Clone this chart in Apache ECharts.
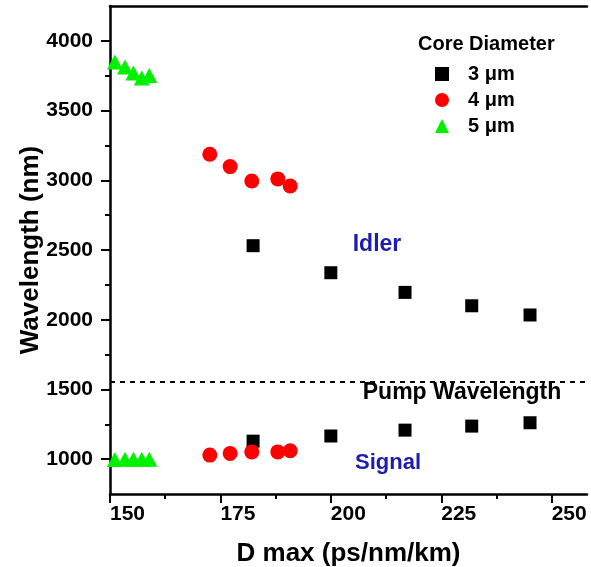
<!DOCTYPE html>
<html>
<head>
<meta charset="utf-8">
<script src="https://cdn.jsdelivr.net/npm/echarts@6/dist/echarts.min.js"></script>
<style>
html,body{margin:0;padding:0;background:#fff;}
#chart{width:591px;height:567px;}
</style>
</head>
<body>
<div id="chart"></div>
<script>
// ---- data ----
const seriesNames = ['3 μm', '4 μm', '5 μm'];
const dmax3 = [182.4, 200.0, 216.8, 231.9, 245.1];
const idler3 = [2531, 2337, 2196, 2100, 2034];
const signal3 = [1129, 1166, 1208, 1237, 1261];
const dmax4 = [172.6, 177.2, 182.1, 188.0, 190.8];
const idler4 = [3187, 3098, 2995, 3010, 2959];
const signal4 = [1029, 1041, 1052, 1052, 1060];
const dmax5 = [151.1, 153.4, 155.3, 157.2, 158.9];
const idler5 = [3849, 3813, 3770, 3734, 3752];
const signal5 = [998, 1000, 1000, 1000, 1000];
const pumpWavelength = 1555;
const xMajorTicks = [150, 175, 200, 225, 250];
const xMinorTicks = [162.5, 187.5, 212.5, 237.5];
const yMajorTicks = [1000, 1500, 2000, 2500, 3000, 3500, 4000];
const yMinorTicks = [1250, 1750, 2250, 2750, 3250, 3750];
const xRange = [150, 258];
const yRange = [750, 4250];

function pairs(xs, ys) { return xs.map((x, i) => [x, ys[i]]); }

const FONT = 'Liberation Sans, Arial, sans-serif';
const chart = echarts.init(document.getElementById('chart'), null, {renderer: 'canvas'});

const axisLineStyle = {color: '#000', width: 2.5};
const baseX = {type: 'value', min: xRange[0], max: xRange[1], splitLine: {show: false}, gridIndex: 0};
const baseY = {type: 'value', min: yRange[0], max: yRange[1], splitLine: {show: false}, gridIndex: 0};

chart.setOption({
  animation: false,
  backgroundColor: '#fff',
  grid: {left: 110, right: 4, top: 6, bottom: 73, containLabel: false, outerBoundsMode: 'none'},
  title: {
    text: 'Core Diameter', left: 413, top: 29,
    textStyle: {fontFamily: FONT, fontSize: 20, fontWeight: 'bold', color: '#000'}
  },
  legend: {
    data: seriesNames, orient: 'vertical', left: 430, top: 59,
    itemWidth: 14, itemHeight: 14, itemGap: 6,
    textStyle: {fontFamily: FONT, fontSize: 20, fontWeight: 'bold', color: '#000', padding: [0, 0, 0, 14]}
  },
  xAxis: [
    Object.assign({}, baseX, {
      position: 'bottom',
      name: 'D max (ps/nm/km)', nameLocation: 'middle', nameGap: 47,
      nameTextStyle: {fontFamily: FONT, fontSize: 26, fontWeight: 'bold', color: '#000'},
      axisLine: {show: true, onZero: false, lineStyle: axisLineStyle},
      axisTick: {show: true, inside: false, length: 9, lineStyle: {color: '#000', width: 2}, customValues: xMajorTicks},
      axisLabel: {show: true, customValues: xMajorTicks, align: 'left', margin: 10,
        formatter: v => String(v),
        fontFamily: FONT, fontSize: 21, fontWeight: 'bold', color: '#000'}
    }),
    Object.assign({}, baseX, {
      position: 'bottom',
      axisLine: {show: false, onZero: false},
      axisTick: {show: true, length: 5, lineStyle: {color: '#000', width: 2}, customValues: xMinorTicks},
      axisLabel: {show: false}
    }),
    Object.assign({}, baseX, {
      position: 'top',
      axisLine: {show: true, onZero: false, lineStyle: axisLineStyle},
      axisTick: {show: false},
      axisLabel: {show: false}
    })
  ],
  yAxis: [
    Object.assign({}, baseY, {
      position: 'left',
      name: 'Wavelength (nm)', nameLocation: 'middle', nameGap: 66, nameMoveOverlap: false,
      nameTextStyle: {fontFamily: FONT, fontSize: 26, fontWeight: 'bold', color: '#000'},
      axisLine: {show: true, onZero: false, lineStyle: axisLineStyle},
      axisTick: {show: true, length: 9, lineStyle: {color: '#000', width: 2}, customValues: yMajorTicks},
      axisLabel: {show: true, customValues: yMajorTicks, margin: 17,
        formatter: v => String(v),
        fontFamily: FONT, fontSize: 21, fontWeight: 'bold', color: '#000'}
    }),
    Object.assign({}, baseY, {
      position: 'left',
      axisLine: {show: false, onZero: false},
      axisTick: {show: true, length: 5, lineStyle: {color: '#000', width: 2}, customValues: yMinorTicks},
      axisLabel: {show: false}
    })
  ],
  series: [
    {
      name: seriesNames[0], type: 'scatter', xAxisIndex: 0, yAxisIndex: 0,
      symbol: 'rect', symbolSize: 13,
      itemStyle: {color: '#000', opacity: 1},
      data: pairs(dmax3, idler3).concat(pairs(dmax3, signal3)),
      markLine: {
        silent: true, symbol: 'none',
        lineStyle: {color: '#000', width: 2, type: [5, 5], opacity: 1},
        label: {show: false},
        data: [{yAxis: pumpWavelength}]
      }
    },
    {
      name: seriesNames[1], type: 'scatter', xAxisIndex: 0, yAxisIndex: 0,
      symbol: 'circle', symbolSize: 15,
      itemStyle: {color: '#ff0000', opacity: 1},
      data: pairs(dmax4, idler4).concat(pairs(dmax4, signal4))
    },
    {
      name: seriesNames[2], type: 'scatter', xAxisIndex: 0, yAxisIndex: 0,
      symbol: 'triangle', symbolSize: [16, 15],
      itemStyle: {color: '#00f000', opacity: 1},
      data: pairs(dmax5, idler5).concat(pairs(dmax5, signal5))
    }
  ],
  graphic: [
    {type: 'text', x: 377, y: 245, style: {text: 'Idler', align: 'center', verticalAlign: 'middle',
      font: 'bold 23px ' + FONT, fill: '#1c1cb0'}},
    {type: 'text', x: 462, y: 393, style: {text: 'Pump Wavelength', align: 'center', verticalAlign: 'middle',
      font: 'bold 23px ' + FONT, fill: '#000'}},
    {type: 'text', x: 388, y: 463, style: {text: 'Signal', align: 'center', verticalAlign: 'middle',
      font: 'bold 22px ' + FONT, fill: '#1c1cb0'}}
  ]
});
</script>
</body>
</html>
